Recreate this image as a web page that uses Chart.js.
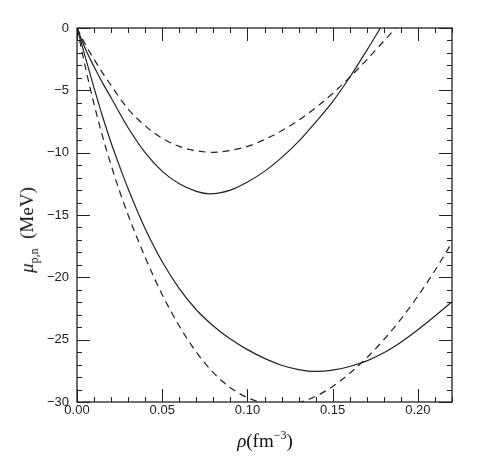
<!DOCTYPE html>
<html>
<head>
<meta charset="utf-8">
<script src="https://cdn.jsdelivr.net/npm/chart.js@4"></script>
<style>
  body { margin: 0; background: #fff; }
  #wrap { position: relative; width: 490px; height: 474px; }
  .ttl { position: absolute; font-family: "Liberation Serif", "DejaVu Serif", serif; color: #111; white-space: nowrap; }
  #xt { left: 265px; top: 440px; transform: translate(-50%, -50%); font-size: 19px; }
  #yt { left: 29px; top: 230px; transform: translate(-50%, -50%) rotate(-90deg); font-size: 19px; }
  sup { font-size: 12px; }
  sub { font-size: 12px; }
</style>
</head>
<body>
<div id="wrap">
  <canvas id="c" width="490" height="474"></canvas>
  <div class="ttl" id="xt"><i>ρ</i>(fm<sup>−3</sup>)</div>
  <div class="ttl" id="yt"><i>μ</i><sub>p,n</sub>&nbsp;&nbsp;(MeV)</div>
</div>
<script>
// upper pair (solid / dashed)
const rhoUpSolid = [0, 0.005, 0.01, 0.015, 0.02, 0.03, 0.04, 0.05, 0.06, 0.07, 0.078, 0.09, 0.10, 0.11, 0.12, 0.13, 0.14, 0.15, 0.16, 0.17, 0.178];
const muUpSolid  = [0, -1.7, -3.1, -4.4, -5.6, -8.0, -10.0, -11.5, -12.5, -13.1, -13.3, -13.0, -12.35, -11.5, -10.4, -9.1, -7.55, -5.9, -3.95, -1.8, 0];

const rhoUpDash = [0, 0.005, 0.01, 0.015, 0.02, 0.025, 0.03, 0.04, 0.05, 0.06, 0.07, 0.08, 0.09, 0.10, 0.11, 0.12, 0.13, 0.14, 0.15, 0.16, 0.17, 0.18, 0.187];
const muUpDash  = [0, -1.35, -2.5, -3.6, -4.6, -5.6, -6.5, -7.85, -8.85, -9.5, -9.85, -9.97, -9.82, -9.5, -8.95, -8.25, -7.4, -6.4, -5.25, -3.95, -2.55, -1.05, 0];

// lower pair (solid / dashed)
const rhoLoSolid = [0, 0.005, 0.01, 0.015, 0.02, 0.025, 0.03, 0.035, 0.04, 0.05, 0.06, 0.07, 0.08, 0.09, 0.10, 0.11, 0.12, 0.13, 0.14, 0.15, 0.16, 0.17, 0.18, 0.19, 0.20, 0.21, 0.22];
const muLoSolid  = [0, -2.4, -4.8, -7.1, -9.2, -11.1, -12.9, -14.55, -16.1, -18.75, -20.9, -22.6, -23.9, -24.95, -25.8, -26.5, -27.05, -27.4, -27.55, -27.45, -27.15, -26.7, -26.05, -25.2, -24.2, -23.1, -21.95];

const rhoLoDash = [0, 0.005, 0.01, 0.015, 0.02, 0.025, 0.03, 0.035, 0.04, 0.045, 0.05, 0.06, 0.07, 0.08, 0.09, 0.10, 0.11, 0.12, 0.13, 0.14, 0.15, 0.16, 0.17, 0.18, 0.19, 0.20, 0.21, 0.22];
const muLoDash  = [0, -3.2, -6.1, -8.7, -11.0, -13.1, -15.0, -16.75, -18.4, -19.95, -21.4, -23.9, -26.0, -27.65, -28.85, -29.65, -30.1, -30.25, -30.05, -29.55, -28.75, -27.7, -26.45, -25.0, -23.35, -21.5, -19.45, -17.2];

const xMin = 0, xMax = 0.22, xStep = 0.05, xMinor = 0.01;
const yMin = -30, yMax = 0, yStep = 5, yMinor = 1;

const INK = '#222';

function pts(xs, ys) {
    return xs.map((x, i) => ({ x: x, y: ys[i] }));
}

function line(xs, ys, dashed) {
    return {
        data: pts(xs, ys),
        borderColor: INK,
        borderWidth: 1.2,
        borderDash: dashed ? [7, 5] : [],
        pointRadius: 0,
        fill: false,
        cubicInterpolationMode: 'monotone'
    };
}

// frame + inward ticks on all four sides
const frameTicks = {
    id: 'frameTicks',
    afterDraw(chart) {
        const { ctx, chartArea: a, scales: { x, y } } = chart;
        ctx.save();
        ctx.strokeStyle = INK;
        ctx.lineWidth = 1.3;
        ctx.strokeRect(a.left, a.top, a.right - a.left, a.bottom - a.top);
        ctx.lineWidth = 1;
        ctx.beginPath();
        for (let i = 0; xMin + i * xMinor <= xMax + 1e-9; i++) {
            const v = xMin + i * xMinor;
            const len = (i % 5 === 0) ? 13 : 5;
            const px = Math.round(x.getPixelForValue(v)) + 0.5;
            ctx.moveTo(px, a.bottom); ctx.lineTo(px, a.bottom - len);
            ctx.moveTo(px, a.top); ctx.lineTo(px, a.top + len);
        }
        for (let i = 0; yMin + i * yMinor <= yMax + 1e-9; i++) {
            const v = yMin + i * yMinor;
            const len = (i % 5 === 0) ? 13 : 5;
            const py = Math.round(y.getPixelForValue(v)) + 0.5;
            ctx.moveTo(a.left, py); ctx.lineTo(a.left + len, py);
            ctx.moveTo(a.right, py); ctx.lineTo(a.right - len, py);
        }
        ctx.stroke();
        ctx.restore();
    }
};

new Chart(document.getElementById('c'), {
    type: 'line',
    data: {
        datasets: [
            line(rhoUpSolid, muUpSolid, false),
            line(rhoUpDash, muUpDash, true),
            line(rhoLoSolid, muLoSolid, false),
            line(rhoLoDash, muLoDash, true)
        ]
    },
    options: {
        responsive: false,
        animation: false,
        layout: { padding: { top: 28, right: 38, left: 0, bottom: 0 } },
        plugins: { legend: { display: false }, tooltip: { enabled: false } },
        scales: {
            x: {
                type: 'linear', min: xMin, max: xMax,
                grid: { display: false, drawTicks: false },
                border: { display: false },
                ticks: {
                    stepSize: xStep, includeBounds: false, padding: 1, maxRotation: 0,
                    color: INK, font: { family: 'Liberation Sans', size: 13 },
                    callback: v => v.toFixed(2)
                },
                afterFit: s => { s.height = 72; }
            },
            y: {
                type: 'linear', min: yMin, max: yMax,
                grid: { display: false, drawTicks: false },
                border: { display: false },
                ticks: {
                    stepSize: yStep, padding: 8,
                    color: INK, font: { family: 'Liberation Sans', size: 13 },
                    callback: v => v < 0 ? '\u2212' + Math.abs(v) : String(v)
                },
                afterFit: s => { s.width = 77; }
            }
        }
    },
    plugins: [frameTicks]
});
</script>
</body>
</html>
